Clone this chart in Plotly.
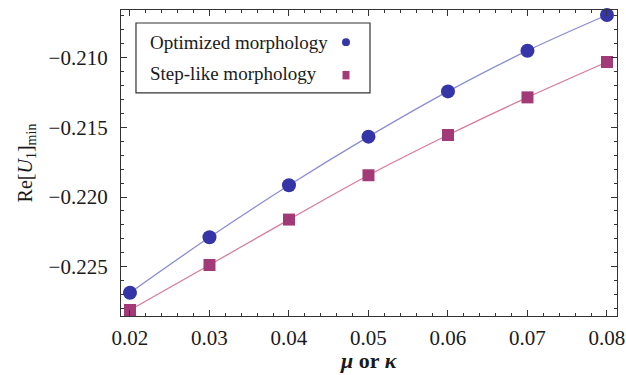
import plotly.graph_objects as go

# coupling parameter (mu or kappa)
x_vals = [0.02, 0.03, 0.04, 0.05, 0.06, 0.07, 0.08]
# minimum of Re[U1] for each morphology
optimized = [-0.22687, -0.22289, -0.21916, -0.21567, -0.21242, -0.2095, -0.20694]
step_like = [-0.22811, -0.22488, -0.22162, -0.21844, -0.21555, -0.21285, -0.21031]

x_ticks = [0.02, 0.03, 0.04, 0.05, 0.06, 0.07, 0.08]
y_ticks = [-0.225, -0.220, -0.215, -0.210]
y_tick_text = ["\u22120.225", "\u22120.220", "\u22120.215", "\u22120.210"]

SERIF = "Liberation Serif"
BLUE_LINE = "#8c8cd6"
BLUE_MARK = "#3535a8"
PINK_LINE = "#d77a9a"
PINK_MARK = "#a23a78"
INK = "#1a1a1a"

fig = go.Figure()

# smooth curves through each series
fig.add_trace(go.Scatter(x=x_vals, y=optimized, mode="lines",
                         line=dict(color=BLUE_LINE, width=1.3, shape="spline"),
                         showlegend=False, hoverinfo="skip"))
fig.add_trace(go.Scatter(x=x_vals, y=step_like, mode="lines",
                         line=dict(color=PINK_LINE, width=1.3, shape="spline"),
                         showlegend=False, hoverinfo="skip"))
# data markers
fig.add_trace(go.Scatter(x=x_vals, y=optimized, mode="markers",
                         marker=dict(symbol="circle", size=14, color=BLUE_MARK),
                         showlegend=False, cliponaxis=False))
fig.add_trace(go.Scatter(x=x_vals, y=step_like, mode="markers",
                         marker=dict(symbol="square", size=12, color=PINK_MARK),
                         showlegend=False, cliponaxis=False))

# legend box drawn in paper coordinates
fig.add_shape(type="rect", xref="paper", yref="paper",
              x0=0.0302, x1=0.502, y0=0.729, y1=0.9575,
              line=dict(color="#333333", width=1.2), fillcolor="white")
fig.add_annotation(xref="paper", yref="paper", x=0.0544, y=0.895,
                   text="Optimized morphology", showarrow=False,
                   xanchor="left", yanchor="middle",
                   font=dict(family=SERIF, size=19, color=INK))
fig.add_annotation(xref="paper", yref="paper", x=0.0544, y=0.794,
                   text="Step-like morphology", showarrow=False,
                   xanchor="left", yanchor="middle",
                   font=dict(family=SERIF, size=19, color=INK))
fig.add_shape(type="circle", xref="paper", yref="paper",
              x0=0.4456, x1=0.4617, y0=0.882, y1=0.908,
              line=dict(width=0), fillcolor=BLUE_MARK)
fig.add_shape(type="rect", xref="paper", yref="paper",
              x0=0.4466, x1=0.4607, y0=0.7732, y1=0.8009,
              line=dict(width=0), fillcolor=PINK_MARK)

# x-axis title placed below the tick labels
fig.add_annotation(xref="paper", yref="paper", x=0.5, y=-0.144,
                   text="<b><i>\u03bc</i> or <i>\u03ba</i></b>", showarrow=False,
                   xanchor="center", yanchor="middle",
                   font=dict(family=SERIF, size=22, color=INK))

axis_common = dict(
    showgrid=False, zeroline=False, showline=True, linecolor="#333333",
    linewidth=1.2, mirror="allticks", ticks="inside", ticklen=6,
    tickcolor="#333333", tickwidth=1, automargin=False,
    tickfont=dict(family=SERIF, size=21, color=INK),
)

fig.update_xaxes(
    **axis_common,
    range=[0.01887, 0.08126],
    tickvals=x_ticks,
    ticktext=[f"{v:.2f}" for v in x_ticks],
    ticklabelstandoff=3,
    minor=dict(ticks="inside", ticklen=3, dtick=0.002, tick0=0.0,
               tickcolor="#333333", tickwidth=1),
)
fig.update_yaxes(
    **axis_common,
    range=[-0.22854, -0.20658],
    tickvals=y_ticks,
    ticktext=y_tick_text,
    ticklabelstandoff=8,
    minor=dict(ticks="inside", ticklen=3, dtick=0.001, tick0=0.0,
               tickcolor="#333333", tickwidth=1),
    title=dict(text="Re[<i>U</i><sub>1</sub>]<sub>min</sub>",
               font=dict(family=SERIF, size=20, color=INK), standoff=10),
)

fig.update_layout(
    width=626, height=375,
    margin=dict(l=121, r=9, t=10, b=59),
    paper_bgcolor="white", plot_bgcolor="white",
    showlegend=False,
)

fig.write_html("out.html")
